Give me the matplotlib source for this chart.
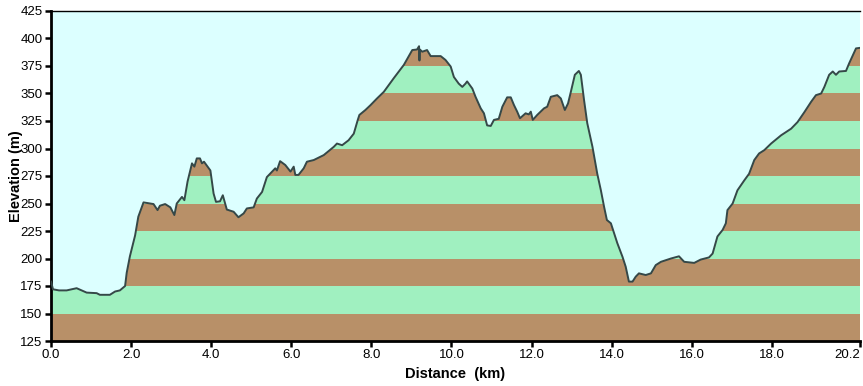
import numpy as np
import matplotlib
matplotlib.use('Agg')
import matplotlib.pyplot as plt
from matplotlib.patches import Polygon

plt.rcParams['font.family'] = ['Liberation Sans', 'DejaVu Sans']

# profile (km, m)
dist = [0.0, 0.05, 0.2, 0.39, 0.64, 0.89, 1.14, 1.22, 1.47, 1.6, 1.72, 1.85, 1.89, 1.97,
        2.1, 2.18, 2.31, 2.56, 2.66, 2.72, 2.85, 2.98, 3.08, 3.14, 3.27, 3.33, 3.41,
        3.52, 3.58, 3.64, 3.72, 3.77, 3.82, 3.98, 4.06, 4.12, 4.22, 4.29, 4.39, 4.56,
        4.68, 4.81, 4.89, 5.06, 5.14, 5.27, 5.39, 5.52, 5.6, 5.64, 5.72, 5.85, 5.98,
        6.06, 6.1, 6.18, 6.31, 6.39, 6.56, 6.81, 7.06, 7.14, 7.27, 7.43, 7.56, 7.66,
        7.7, 7.85, 7.98, 8.14, 8.31, 8.56, 8.81, 9.02, 9.14, 9.19, 9.2, 9.21, 9.27,
        9.39, 9.48, 9.73, 9.85, 9.98, 10.06, 10.18, 10.27, 10.35, 10.39, 10.52, 10.6,
        10.73, 10.81, 10.89, 10.98, 11.06, 11.18, 11.27, 11.39, 11.48, 11.56, 11.64,
        11.71, 11.85, 11.93, 11.98, 12.03, 12.14, 12.31, 12.39, 12.48, 12.64, 12.73,
        12.83, 12.91, 12.98, 13.08, 13.18, 13.23, 13.31, 13.39, 13.52, 13.64, 13.73,
        13.81, 13.88, 13.98, 14.06, 14.14, 14.27, 14.35, 14.43, 14.52, 14.6, 14.68,
        14.85, 14.98, 15.1, 15.23, 15.48, 15.68, 15.81, 16.06, 16.22, 16.43, 16.52,
        16.64, 16.77, 16.85, 16.89, 17.02, 17.14, 17.31, 17.43, 17.56, 17.68, 17.81,
        17.98, 18.23, 18.48, 18.64, 18.81, 18.98, 19.1, 19.23, 19.31, 19.43, 19.52,
        19.6, 19.68, 19.85, 19.93, 20.1, 20.2]
elev = [179, 172, 171, 171, 173, 169, 168.5, 167, 167, 170, 171, 175, 187, 202,
        221, 238, 251, 249.5, 244, 248, 249.5, 246.5, 239.5, 250, 256, 253, 270,
        286.5, 283.5, 291, 291, 286.5, 288, 280, 259, 251.5, 252, 257.5, 244.5, 242.5,
        237.5, 241, 245.5, 246.5, 254.5, 260.5, 274, 279, 282, 280, 288.5, 285, 279,
        283.5, 276, 276, 282, 288, 289.5, 294, 301.5, 304.5, 303, 307.5, 313.5, 326,
        330.5, 335, 339.5, 345.5, 351.5, 364, 376, 389.5, 390, 393, 380, 390, 388,
        389.5, 384, 384, 380.5, 374.5, 365, 359, 356, 359, 361, 354.5, 347,
        336.5, 332, 321, 320.5, 326, 327, 338, 346.5, 346.5, 339.5, 333.5,
        327.5, 332, 331, 333.5, 326, 330.5, 336.5, 338, 347, 348.5, 345.5,
        335, 341, 351.5, 367, 370.5, 367, 344, 323, 301.5, 277, 262,
        247, 235, 232, 223, 214, 201.5, 192.5, 179, 179, 183.5, 186.5,
        185, 186.5, 194, 197, 200, 202, 197, 196, 199, 201, 204.5,
        220, 226, 232, 244, 250, 262, 271, 277, 289.5, 295.5, 298.5,
        304.5, 312, 318, 324, 333, 342.5, 348.5, 350, 356, 367, 370,
        367, 370, 370.5, 377.5, 391, 391.5]

y_ticks = [125, 150, 175, 200, 225, 250, 275, 300, 325, 350, 375, 400, 425]
x_ticks = [0, 2, 4, 6, 8, 10, 12, 14, 16, 18, 20.2]
x_labels = ['0.0', '2.0', '4.0', '6.0', '8.0', '10.0', '12.0', '14.0', '16.0', '18.0', '20.2']

fig = plt.figure(figsize=(8.63, 3.86), dpi=100)
ax = fig.add_axes([51 / 863, 1 - 341 / 386, 809 / 863, 330 / 386])
ax.set_facecolor('#dcffff')
ax.set_xlim(0, 20.2)
ax.set_ylim(125, 425)

# clip path = area under the profile
verts = list(zip(dist, elev)) + [(dist[-1], 125), (dist[0], 125)]
area = Polygon(verts, closed=True, transform=ax.transData, facecolor='none', edgecolor='none')
ax.add_patch(area)

for i, lo in enumerate(range(125, 425, 25)):
    c = '#b89068' if i % 2 == 0 else '#a0f0c0'
    band = ax.axhspan(lo, lo + 25, color=c, lw=0, zorder=1)
    band.set_clip_path(area)

ax.plot(dist, elev, color='#354848', lw=1.4, zorder=3)

ax.set_xticks(x_ticks)
ax.set_xticklabels(x_labels)
ax.get_xticklabels()[-1].set_horizontalalignment('right')
ax.set_yticks(y_ticks)
ax.tick_params(direction='out', length=4, width=1.8, labelsize=9.5, pad=2)
ax.spines['left'].set_linewidth(2)
ax.spines['bottom'].set_linewidth(2)
ax.spines['top'].set_linewidth(1)
ax.spines['right'].set_visible(False)

ax.set_xlabel('Distance  (km)', fontweight='bold', fontsize=10.5, labelpad=4)
ax.set_ylabel('Elevation (m)', fontweight='bold', fontsize=10.5)
ax.yaxis.set_label_coords(-0.035, 0.5)

fig.savefig('out.png', dpi=100)
